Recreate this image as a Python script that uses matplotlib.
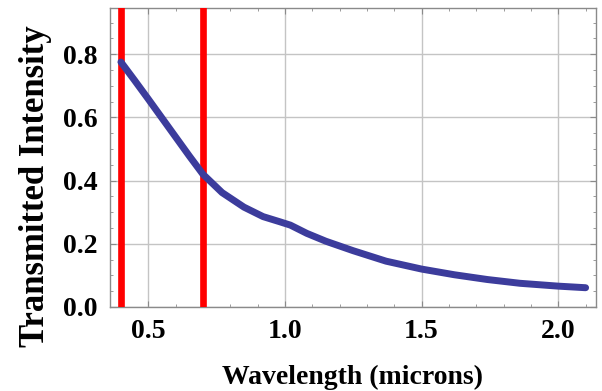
import matplotlib
matplotlib.use("Agg")
import matplotlib.pyplot as plt
from matplotlib.ticker import MultipleLocator

wavelength = [0.40, 0.45, 0.50, 0.58, 0.65, 0.70, 0.77, 0.85, 0.92, 0.98, 1.02, 1.08,
              1.15, 1.25, 1.37, 1.50, 1.62, 1.74, 1.86, 2.00, 2.10]
intensity = [0.775, 0.717, 0.658, 0.562, 0.478, 0.420, 0.362, 0.316, 0.286, 0.270, 0.259, 0.233,
             0.208, 0.178, 0.145, 0.120, 0.102, 0.087, 0.075, 0.066, 0.061]
red_lines = [0.40, 0.70]
xticks = [0.5, 1.0, 1.5, 2.0]
yticks = [0.0, 0.2, 0.4, 0.6, 0.8]

plt.rcParams['font.family'] = ['Liberation Serif', 'DejaVu Serif']
plt.rcParams['font.weight'] = 'bold'

fig = plt.figure(figsize=(6.02, 3.91), dpi=100)
ax = fig.add_axes([110/602, 1-307/391, (596-110)/602, (307-8)/391])

ax.set_xlim(0.360, 2.138)
ax.set_ylim(0.0, 0.946)

ax.set_xticks(xticks)
ax.set_yticks(yticks)
ax.set_xticklabels([f"{v:.1f}" for v in xticks])
ax.set_yticklabels([f"{v:.1f}" for v in yticks])
ax.xaxis.set_minor_locator(MultipleLocator(0.1))
ax.yaxis.set_minor_locator(MultipleLocator(0.05))

ax.grid(True, which='major', color='#c4c4c4', linewidth=1.0)
ax.set_axisbelow(True)

for s in ax.spines.values():
    s.set_color('#8a8a8a')
    s.set_linewidth(1.0)

ax.tick_params(which='both', direction='in', top=True, right=True, color='#8a8a8a')
ax.tick_params(which='major', length=4, width=0.8, labelsize=20, pad=9)
ax.tick_params(which='minor', length=2.5, width=0.6)

for xv in red_lines:
    ax.axvline(xv, color='#ff0000', linewidth=4.8, zorder=3)

ax.plot(wavelength, intensity, color='#3c3c9c', linewidth=5, solid_capstyle='round',
        solid_joinstyle='round', zorder=4)

ax.set_xlabel("Wavelength (microns)", fontsize=20, fontweight='bold', labelpad=15)
ax.set_ylabel("Transmitted Intensity", fontsize=25, fontweight='bold')
ax.yaxis.set_label_coords((52 - 110) / 486, (307 - 186) / 299)

fig.savefig("out.png", dpi=100)
